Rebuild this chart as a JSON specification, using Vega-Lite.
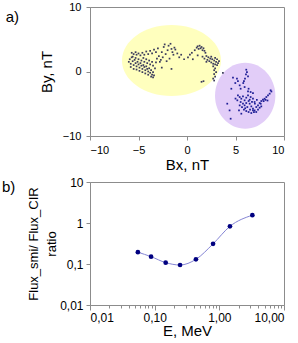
{
  "$schema": "https://vega.github.io/schema/vega-lite/v6.json",
  "background": "white",
  "padding": {"left": 1, "top": 0, "right": 2, "bottom": 2},
  "spacing": 2,
  "config": {
    "font": "Liberation Sans",
    "view": {"stroke": "#8c8c8c", "strokeWidth": 1},
    "axis": {
      "grid": false,
      "domainColor": "#8c8c8c",
      "tickColor": "#8c8c8c",
      "tickSize": 4,
      "labelColor": "#000000",
      "labelFont": "Liberation Sans",
      "labelFontSize": 11,
      "titleFont": "Liberation Sans",
      "titleFontWeight": "normal",
      "titleColor": "#000000",
      "titleFontSize": 15
    },
    "title": {"font": "Liberation Sans", "fontWeight": "normal", "fontSize": 15, "color": "#000000"}
  },
  "datasets": {
    "ellipses": [
      {"cx": -1.6, "cy": 1.7, "g": "A"},
      {"cx": 6.0, "cy": -3.75, "g": "B"}
    ],
    "pts": [
      {"bx": -5.7, "by": 2.9, "g": "A"}, {"bx": -5.5, "by": 2.7, "g": "A"}, {"bx": -5.3, "by": 3.0, "g": "A"}, {"bx": -5.2, "by": 2.6, "g": "A"},
      {"bx": -5.0, "by": 2.8, "g": "A"}, {"bx": -4.8, "by": 2.5, "g": "A"}, {"bx": -4.6, "by": 2.9, "g": "A"}, {"bx": -4.4, "by": 2.6, "g": "A"},
      {"bx": -4.2, "by": 3.1, "g": "A"}, {"bx": -4.0, "by": 2.7, "g": "A"}, {"bx": -3.8, "by": 3.2, "g": "A"}, {"bx": -3.6, "by": 2.8, "g": "A"},
      {"bx": -3.4, "by": 3.4, "g": "A"}, {"bx": -3.2, "by": 3.0, "g": "A"}, {"bx": -3.0, "by": 3.6, "g": "A"},
      {"bx": -6.0, "by": 1.5, "g": "A"}, {"bx": -5.9, "by": 1.9, "g": "A"}, {"bx": -5.8, "by": 1.2, "g": "A"}, {"bx": -5.7, "by": 2.2, "g": "A"},
      {"bx": -5.6, "by": 1.6, "g": "A"}, {"bx": -5.5, "by": 1.0, "g": "A"}, {"bx": -5.4, "by": 1.8, "g": "A"}, {"bx": -5.3, "by": 1.3, "g": "A"},
      {"bx": -5.2, "by": 0.8, "g": "A"}, {"bx": -5.1, "by": 1.5, "g": "A"}, {"bx": -5.0, "by": 1.1, "g": "A"}, {"bx": -4.9, "by": 0.6, "g": "A"},
      {"bx": -4.8, "by": 1.3, "g": "A"}, {"bx": -4.7, "by": 0.9, "g": "A"}, {"bx": -4.6, "by": 0.4, "g": "A"}, {"bx": -4.5, "by": 1.0, "g": "A"},
      {"bx": -4.4, "by": 0.7, "g": "A"}, {"bx": -4.3, "by": 0.2, "g": "A"}, {"bx": -4.2, "by": 0.8, "g": "A"}, {"bx": -4.1, "by": 0.4, "g": "A"},
      {"bx": -4.0, "by": 0.0, "g": "A"}, {"bx": -3.9, "by": 0.5, "g": "A"}, {"bx": -3.8, "by": -0.2, "g": "A"}, {"bx": -3.7, "by": 0.2, "g": "A"},
      {"bx": -3.6, "by": -0.5, "g": "A"}, {"bx": -3.5, "by": -0.1, "g": "A"}, {"bx": -3.5, "by": -0.9, "g": "A"}, {"bx": -3.4, "by": -0.6, "g": "A"},
      {"bx": -3.7, "by": -0.8, "g": "A"}, {"bx": -4.0, "by": -0.5, "g": "A"}, {"bx": -4.3, "by": -0.3, "g": "A"}, {"bx": -4.6, "by": -0.1, "g": "A"},
      {"bx": -4.9, "by": 0.1, "g": "A"}, {"bx": -5.2, "by": 0.3, "g": "A"}, {"bx": -5.5, "by": 0.4, "g": "A"}, {"bx": -5.8, "by": 0.7, "g": "A"},
      {"bx": -5.6, "by": 2.3, "g": "A"}, {"bx": -5.3, "by": 2.1, "g": "A"}, {"bx": -5.0, "by": 1.9, "g": "A"}, {"bx": -4.7, "by": 1.7, "g": "A"},
      {"bx": -4.4, "by": 1.5, "g": "A"}, {"bx": -4.1, "by": 1.3, "g": "A"}, {"bx": -3.8, "by": 1.1, "g": "A"}, {"bx": -3.5, "by": 0.9, "g": "A"},
      {"bx": -3.3, "by": 0.5, "g": "A"}, {"bx": -3.2, "by": 1.4, "g": "A"}, {"bx": -4.5, "by": 2.1, "g": "A"}, {"bx": -4.2, "by": 1.9, "g": "A"},
      {"bx": -3.9, "by": 1.7, "g": "A"}, {"bx": -3.6, "by": 1.5, "g": "A"},
      {"bx": -2.9, "by": 2.4, "g": "A"}, {"bx": -2.7, "by": 1.8, "g": "A"}, {"bx": -2.6, "by": 3.0, "g": "A"}, {"bx": -2.5, "by": 2.2, "g": "A"},
      {"bx": -2.4, "by": 3.8, "g": "A"}, {"bx": -2.3, "by": 4.2, "g": "A"}, {"bx": -2.2, "by": 2.7, "g": "A"}, {"bx": -2.0, "by": 3.3, "g": "A"},
      {"bx": -1.9, "by": 4.0, "g": "A"}, {"bx": -1.8, "by": 2.0, "g": "A"}, {"bx": -1.7, "by": 4.3, "g": "A"}, {"bx": -1.6, "by": 3.5, "g": "A"},
      {"bx": -1.5, "by": 3.0, "g": "A"}, {"bx": -1.4, "by": 2.6, "g": "A"}, {"bx": -1.3, "by": 3.7, "g": "A"}, {"bx": -1.2, "by": 3.4, "g": "A"},
      {"bx": -1.0, "by": 2.8, "g": "A"}, {"bx": -0.8, "by": 2.2, "g": "A"}, {"bx": -0.6, "by": 2.6, "g": "A"}, {"bx": -2.8, "by": 1.5, "g": "A"},
      {"bx": -2.6, "by": 0.6, "g": "A"}, {"bx": -3.1, "by": 2.0, "g": "A"}, {"bx": -2.1, "by": 1.6, "g": "A"}, {"bx": -1.6, "by": 0.4, "g": "A"},
      {"bx": 0.1, "by": 2.2, "g": "A"}, {"bx": 0.3, "by": 2.6, "g": "A"}, {"bx": 0.5, "by": 2.9, "g": "A"}, {"bx": 0.8, "by": 3.3, "g": "A"},
      {"bx": 1.0, "by": 3.7, "g": "A"}, {"bx": 1.1, "by": 3.9, "g": "A"}, {"bx": 1.2, "by": 3.5, "g": "A"}, {"bx": 1.3, "by": 4.0, "g": "A"},
      {"bx": 1.4, "by": 3.6, "g": "A"}, {"bx": 1.5, "by": 3.8, "g": "A"}, {"bx": 1.6, "by": 3.3, "g": "A"}, {"bx": 1.7, "by": 3.6, "g": "A"},
      {"bx": 1.8, "by": 3.2, "g": "A"}, {"bx": 1.9, "by": 2.9, "g": "A"}, {"bx": -0.3, "by": 1.9, "g": "A"}, {"bx": 0.6, "by": 1.9, "g": "A"},
      {"bx": 1.1, "by": 2.5, "g": "A"},
      {"bx": 1.6, "by": 2.3, "g": "A"}, {"bx": 1.8, "by": 2.0, "g": "A"}, {"bx": 2.0, "by": 2.4, "g": "A"}, {"bx": 2.1, "by": 1.8, "g": "A"},
      {"bx": 2.2, "by": 2.2, "g": "A"}, {"bx": 2.3, "by": 1.6, "g": "A"}, {"bx": 2.4, "by": 2.0, "g": "A"}, {"bx": 2.5, "by": 1.4, "g": "A"},
      {"bx": 2.6, "by": 1.9, "g": "A"}, {"bx": 2.7, "by": 1.2, "g": "A"}, {"bx": 2.8, "by": 1.7, "g": "A"}, {"bx": 2.9, "by": 1.1, "g": "A"},
      {"bx": 3.0, "by": 1.5, "g": "A"}, {"bx": 3.1, "by": 1.0, "g": "A"}, {"bx": 3.2, "by": 1.3, "g": "A"}, {"bx": 3.3, "by": 1.6, "g": "A"},
      {"bx": 2.5, "by": 2.3, "g": "A"}, {"bx": 2.9, "by": 2.1, "g": "A"}, {"bx": 3.1, "by": 1.9, "g": "A"}, {"bx": 2.0, "by": 1.5, "g": "A"},
      {"bx": 2.7, "by": 0.8, "g": "A"},
      {"bx": 2.9, "by": 0.5, "g": "A"}, {"bx": 2.8, "by": 0.2, "g": "A"}, {"bx": 3.0, "by": -0.1, "g": "A"}, {"bx": 2.8, "by": -0.4, "g": "A"},
      {"bx": 2.9, "by": -0.8, "g": "A"}, {"bx": 2.7, "by": -1.1, "g": "A"}, {"bx": 2.8, "by": -1.4, "g": "A"}, {"bx": 1.5, "by": -1.6, "g": "A"},
      {"bx": 1.7, "by": -1.5, "g": "A"}, {"bx": 3.7, "by": -0.2, "g": "A"},
      {"bx": 6.11, "by": 0.28, "g": "B"}, {"bx": 6.18, "by": -0.08, "g": "B"}, {"bx": 6.08, "by": -0.44, "g": "B"}, {"bx": 6.29, "by": -0.75, "g": "B"},
      {"bx": 5.98, "by": -1.12, "g": "B"}, {"bx": 5.87, "by": -1.48, "g": "B"}, {"bx": 5.80, "by": -1.79, "g": "B"},
      {"bx": 4.74, "by": -0.96, "g": "B"}, {"bx": 5.15, "by": -1.12, "g": "B"}, {"bx": 5.25, "by": -1.48, "g": "B"}, {"bx": 4.98, "by": -1.79, "g": "B"},
      {"bx": 5.43, "by": -2.15, "g": "B"}, {"bx": 4.57, "by": -2.67, "g": "B"}, {"bx": 5.53, "by": -2.67, "g": "B"}, {"bx": 5.94, "by": -2.41, "g": "B"},
      {"bx": 6.35, "by": -2.67, "g": "B"}, {"bx": 4.15, "by": -4.99, "g": "B"}, {"bx": 4.39, "by": -6.03, "g": "B"}, {"bx": 4.50, "by": -7.32, "g": "B"},
      {"bx": 5.25, "by": -3.70, "g": "B"}, {"bx": 5.43, "by": -3.96, "g": "B"}, {"bx": 5.60, "by": -4.22, "g": "B"}, {"bx": 5.77, "by": -3.85, "g": "B"},
      {"bx": 5.94, "by": -4.47, "g": "B"}, {"bx": 6.11, "by": -4.06, "g": "B"}, {"bx": 6.29, "by": -3.70, "g": "B"}, {"bx": 6.46, "by": -4.37, "g": "B"},
      {"bx": 5.77, "by": -4.99, "g": "B"}, {"bx": 5.94, "by": -5.25, "g": "B"}, {"bx": 6.22, "by": -5.51, "g": "B"}, {"bx": 6.46, "by": -4.99, "g": "B"},
      {"bx": 6.63, "by": -5.41, "g": "B"}, {"bx": 6.80, "by": -5.77, "g": "B"}, {"bx": 6.97, "by": -6.03, "g": "B"}, {"bx": 7.14, "by": -5.51, "g": "B"},
      {"bx": 7.32, "by": -5.25, "g": "B"}, {"bx": 7.49, "by": -4.89, "g": "B"}, {"bx": 7.66, "by": -4.58, "g": "B"}, {"bx": 7.83, "by": -4.37, "g": "B"},
      {"bx": 8.00, "by": -4.22, "g": "B"}, {"bx": 8.18, "by": -3.96, "g": "B"}, {"bx": 8.35, "by": -3.70, "g": "B"}, {"bx": 8.52, "by": -3.44, "g": "B"},
      {"bx": 8.62, "by": -2.92, "g": "B"}, {"bx": 6.97, "by": -4.73, "g": "B"}, {"bx": 6.80, "by": -4.22, "g": "B"}, {"bx": 6.56, "by": -3.96, "g": "B"},
      {"bx": 6.35, "by": -4.58, "g": "B"}, {"bx": 6.11, "by": -4.89, "g": "B"}, {"bx": 5.67, "by": -5.51, "g": "B"}, {"bx": 5.87, "by": -5.92, "g": "B"},
      {"bx": 6.11, "by": -6.13, "g": "B"}, {"bx": 6.35, "by": -6.28, "g": "B"}, {"bx": 6.63, "by": -6.44, "g": "B"}, {"bx": 6.80, "by": -6.03, "g": "B"},
      {"bx": 7.14, "by": -6.28, "g": "B"}, {"bx": 7.32, "by": -5.92, "g": "B"}, {"bx": 7.49, "by": -5.61, "g": "B"}, {"bx": 7.66, "by": -5.41, "g": "B"},
      {"bx": 5.53, "by": -4.73, "g": "B"}, {"bx": 5.43, "by": -5.25, "g": "B"}, {"bx": 5.19, "by": -4.47, "g": "B"}, {"bx": 5.36, "by": -6.03, "g": "B"},
      {"bx": 5.60, "by": -6.54, "g": "B"}, {"bx": 6.56, "by": -3.18, "g": "B"}, {"bx": 6.80, "by": -3.34, "g": "B"}, {"bx": 6.29, "by": -3.08, "g": "B"},
      {"bx": 7.9, "by": -4.6, "g": "B"}, {"bx": 8.1, "by": -4.4, "g": "B"}, {"bx": 8.3, "by": -4.5, "g": "B"}, {"bx": 7.0, "by": -5.0, "g": "B"},
      {"bx": 6.7, "by": -4.7, "g": "B"}, {"bx": 7.2, "by": -4.4, "g": "B"}, {"bx": 6.0, "by": -5.7, "g": "B"}, {"bx": 6.5, "by": -5.9, "g": "B"},
      {"bx": 7.6, "by": -5.0, "g": "B"}, {"bx": 8.7, "by": -3.1, "g": "B"}, {"bx": 5.0, "by": -4.2, "g": "B"}, {"bx": 6.9, "by": -6.3, "g": "B"}
    ],
    "ratio": [
      {"E": 0.055, "r": 0.194}, {"E": 0.088, "r": 0.151}, {"E": 0.148, "r": 0.108}, {"E": 0.247, "r": 0.0945},
      {"E": 0.435, "r": 0.130}, {"E": 0.80, "r": 0.31}, {"E": 1.46, "r": 0.83}, {"E": 3.24, "r": 1.55}
    ]
  },
  "vconcat": [
    {
      "width": 194,
      "height": 129,
      "title": {"text": "a)", "orient": "left", "angle": 0, "anchor": "end", "offset": 7, "dy": 9, "fontSize": 15},
      "layer": [
        {
          "data": {"name": "ellipses"},
          "transform": [{"filter": "datum.g === 'A'"}],
          "mark": {"type": "point", "shape": "M-1,0A1,0.717,0,1,0,1,0A1,0.717,0,1,0,-1,0Z", "size": 9801, "filled": true, "fill": "#ffffbe", "opacity": 1, "strokeWidth": 0},
          "encoding": {
            "x": {"field": "cx", "type": "quantitative"},
            "y": {"field": "cy", "type": "quantitative"}
          }
        },
        {
          "data": {"name": "ellipses"},
          "transform": [{"filter": "datum.g === 'B'"}],
          "mark": {"type": "point", "shape": "M-0.914,0A0.914,1,0,1,0,0.914,0A0.914,1,0,1,0,-0.914,0Z", "size": 4356, "filled": true, "fill": "#e2cdf8", "opacity": 1, "strokeWidth": 0},
          "encoding": {
            "x": {"field": "cx", "type": "quantitative"},
            "y": {"field": "cy", "type": "quantitative"}
          }
        },
        {
          "data": {"name": "pts"},
          "mark": {"type": "square", "size": 3, "opacity": 1},
          "encoding": {
            "x": {"field": "bx", "type": "quantitative", "scale": {"domain": [-10, 10], "nice": false},
                  "axis": {"values": [-10, -5, 0, 5, 10], "title": "Bx, nT", "titlePadding": 2, "labelPadding": 4}},
            "y": {"field": "by", "type": "quantitative", "scale": {"domain": [-10, 10], "nice": false},
                  "axis": {"values": [-10, -5, 0, 5, 10], "title": "By, nT", "titlePadding": 8, "labelPadding": 5}},
            "color": {"field": "g", "type": "nominal", "scale": {"domain": ["A", "B"], "range": ["#3c3c5c", "#1e1e96"]}, "legend": null}
          }
        }
      ]
    },
    {
      "width": 194,
      "height": 123,
      "title": {"text": "b)", "orient": "left", "angle": 0, "anchor": "end", "offset": -1, "dy": 4, "fontSize": 15},
      "data": {"name": "ratio"},
      "layer": [
        {
          "mark": {"type": "line", "interpolate": "monotone", "color": "#8484d4", "strokeWidth": 1},
          "encoding": {
            "x": {"field": "E", "type": "quantitative",
                  "scale": {"type": "log", "domain": [0.01, 10], "nice": false},
                  "axis": {
                    "values": [0.01, 0.02, 0.03, 0.04, 0.05, 0.06, 0.07, 0.08, 0.09, 0.1, 0.2, 0.3, 0.4, 0.5, 0.6, 0.7, 0.8, 0.9, 1, 2, 3, 4, 5, 6, 7, 8, 9, 10],
                    "format": ".2f",
                    "labelExpr": "indexof([0.01, 0.1, 1, 10], datum.value) >= 0 ? replace(datum.label, '.', ',') : ''",
                    "labelOverlap": false,
                    "labelFontSize": 12,
                    "tickSize": {"condition": {"test": "indexof([0.01, 0.1, 1, 10], datum.value) >= 0", "value": 5}, "value": 3},
                    "title": "E, MeV", "titlePadding": 0, "labelPadding": 2
                  }},
            "y": {"field": "r", "type": "quantitative",
                  "scale": {"type": "log", "domain": [0.01, 10], "nice": false},
                  "axis": {
                    "values": [0.01, 0.1, 1, 10],
                    "format": "~g",
                    "labelExpr": "replace(datum.label, '.', ',')",
                    "labelFontSize": 12,
                    "title": ["Flux_smi/ Flux_CIR", "ratio"],
                    "titleFontSize": 13,
                    "titleLineHeight": 18,
                    "titlePadding": 1,
                    "labelPadding": 3
                  }}
          }
        },
        {
          "mark": {"type": "circle", "size": 22, "color": "#000080", "opacity": 1},
          "encoding": {
            "x": {"field": "E", "type": "quantitative"},
            "y": {"field": "r", "type": "quantitative"}
          }
        }
      ]
    }
  ]
}
